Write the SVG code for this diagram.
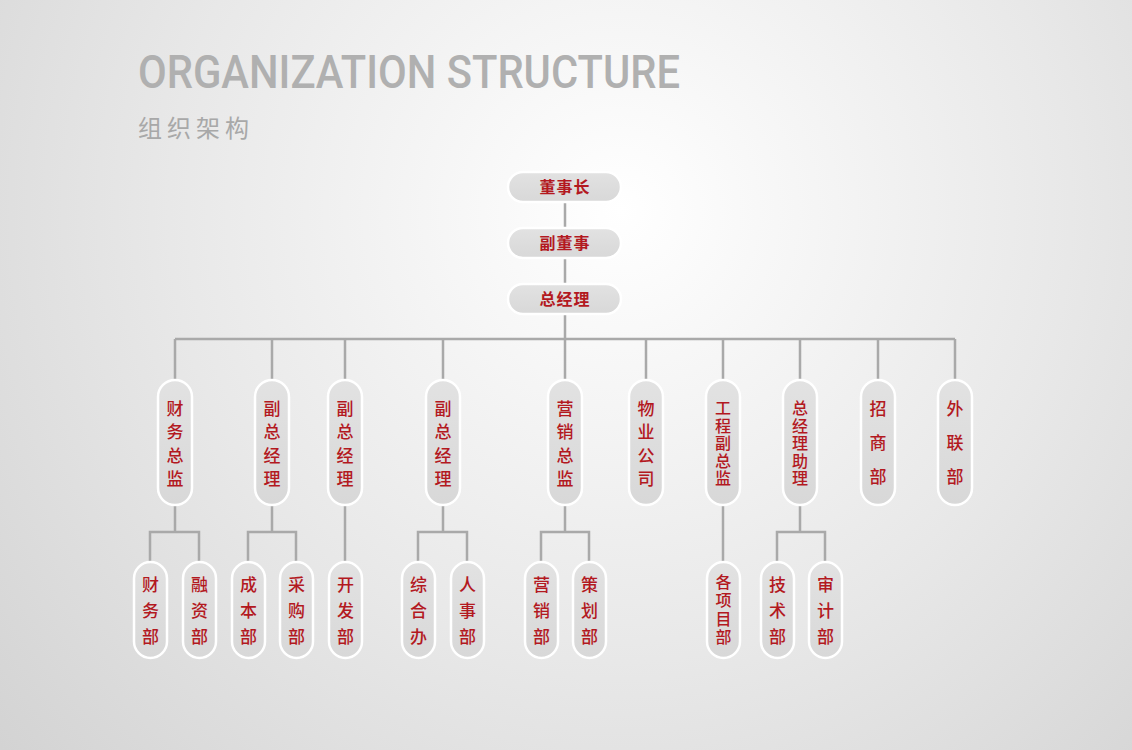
<svg xmlns="http://www.w3.org/2000/svg" width="1132" height="750" viewBox="0 0 1132 750">
<defs>
<radialGradient id="bg" cx="620" cy="210" r="820" gradientUnits="userSpaceOnUse">
<stop offset="0" stop-color="#ffffff"/>
<stop offset="0.55" stop-color="#e8e8e8"/>
<stop offset="1" stop-color="#d3d3d3"/>
</radialGradient>
<linearGradient id="pill" x1="0" y1="0" x2="0" y2="1">
<stop offset="0" stop-color="#e2e2e2"/>
<stop offset="1" stop-color="#d8d8d8"/>
</linearGradient>
<style>
.pill{fill:url(#pill);stroke:#ffffff;stroke-width:2.5}
.t{font-family:"Noto Sans CJK SC","Noto Sans",sans-serif;font-size:17px;font-weight:500;fill:#b3191f;text-anchor:middle}
.v{font-family:"Noto Sans CJK SC","Noto Sans",sans-serif;font-size:16px;font-weight:500;fill:#b3191f;text-anchor:start;writing-mode:vertical-rl;letter-spacing:1.5px}
.tt{font-family:"Noto Sans CJK SC","Noto Sans",sans-serif;font-size:16px;font-weight:bold;fill:#b3191f;text-anchor:middle;letter-spacing:1px}
.ln{stroke:#a9a9a9;stroke-width:2.5;fill:none}
</style>
</defs>
<rect width="1132" height="750" fill="url(#bg)"/>
<text x="138" y="88" font-family="Roboto,'Liberation Sans',Arial,sans-serif" font-weight="500" font-size="46" fill="#b0b0b0" textLength="542" lengthAdjust="spacingAndGlyphs">ORGANIZATION STRUCTURE</text>
<text x="138" y="137" font-family="'Noto Sans CJK SC',sans-serif" font-size="24" fill="#a8a8a8" letter-spacing="5">组织架构</text>

<g id="connectors" class="ln">
<path d="M565 202V228M565 258V284M565 314V339M175 339H955"/>
<path d="M175 339V380M272 339V380M345 339V380M443 339V380M565 339V380M646 339V380M723 339V380M800 339V380M878 339V380M955 339V380"/>
<path d="M175 505V532M150 562V532H199V562"/>
<path d="M272 505V532M248 562V532H296V562"/>
<path d="M345 505V562"/>
<path d="M443 505V532M418 562V532H467V562"/>
<path d="M565 505V532M541 562V532H589V562"/>
<path d="M723 505V562"/>
<path d="M800 505V532M777 562V532H825V562"/>
</g>

<g id="n-dsz"><rect class="pill" x="508" y="172" width="113" height="30" rx="15"/><text class="tt" x="565" y="193">董事长</text></g>
<g id="n-fds"><rect class="pill" x="508" y="228" width="113" height="30" rx="15"/><text class="tt" x="565" y="249">副董事</text></g>
<g id="n-zjl"><rect class="pill" x="508" y="284" width="113" height="30" rx="15"/><text class="tt" x="565" y="305">总经理</text></g>

<g id="n-cwzj"><rect class="pill" x="158" y="380" width="34" height="125" rx="17"/><text class="t" x="175" y="415">财</text><text class="t" x="175" y="438">务</text><text class="t" x="175" y="461.5">总</text><text class="t" x="175" y="484.5">监</text></g>
<g id="n-fzjl1"><rect class="pill" x="255" y="380" width="34" height="125" rx="17"/><text class="t" x="272" y="415">副</text><text class="t" x="272" y="438">总</text><text class="t" x="272" y="461.5">经</text><text class="t" x="272" y="484.5">理</text></g>
<g id="n-fzjl2"><rect class="pill" x="328" y="380" width="34" height="125" rx="17"/><text class="t" x="345" y="415">副</text><text class="t" x="345" y="438">总</text><text class="t" x="345" y="461.5">经</text><text class="t" x="345" y="484.5">理</text></g>
<g id="n-fzjl3"><rect class="pill" x="426" y="380" width="34" height="125" rx="17"/><text class="t" x="443" y="415">副</text><text class="t" x="443" y="438">总</text><text class="t" x="443" y="461.5">经</text><text class="t" x="443" y="484.5">理</text></g>
<g id="n-yxzj"><rect class="pill" x="548" y="380" width="34" height="125" rx="17"/><text class="t" x="565" y="415">营</text><text class="t" x="565" y="438">销</text><text class="t" x="565" y="461.5">总</text><text class="t" x="565" y="484.5">监</text></g>
<g id="n-wygs"><rect class="pill" x="629" y="380" width="34" height="125" rx="17"/><text class="t" x="646" y="415">物</text><text class="t" x="646" y="438">业</text><text class="t" x="646" y="461.5">公</text><text class="t" x="646" y="484.5">司</text></g>
<g id="n-gcfzj"><rect class="pill" x="706" y="380" width="34" height="125" rx="17"/><text class="v" x="723" y="400">工程副总监</text></g>
<g id="n-zjlzl"><rect class="pill" x="783" y="380" width="34" height="125" rx="17"/><text class="v" x="800" y="400">总经理助理</text></g>
<g id="n-zsb"><rect class="pill" x="861" y="380" width="34" height="125" rx="17"/><text class="t" x="878" y="415">招</text><text class="t" x="878" y="449">商</text><text class="t" x="878" y="483">部</text></g>
<g id="n-wlb"><rect class="pill" x="938" y="380" width="34" height="125" rx="17"/><text class="t" x="955" y="415">外</text><text class="t" x="955" y="449">联</text><text class="t" x="955" y="483">部</text></g>

<g id="n-cwb"><rect class="pill" x="134" y="562" width="33" height="96" rx="16.5"/><text class="t" x="150.5" y="591">财</text><text class="t" x="150.5" y="617">务</text><text class="t" x="150.5" y="643">部</text></g>
<g id="n-rzb"><rect class="pill" x="183" y="562" width="33" height="96" rx="16.5"/><text class="t" x="199.5" y="591">融</text><text class="t" x="199.5" y="617">资</text><text class="t" x="199.5" y="643">部</text></g>
<g id="n-cbb"><rect class="pill" x="232" y="562" width="33" height="96" rx="16.5"/><text class="t" x="248.5" y="591">成</text><text class="t" x="248.5" y="617">本</text><text class="t" x="248.5" y="643">部</text></g>
<g id="n-cgb"><rect class="pill" x="280" y="562" width="33" height="96" rx="16.5"/><text class="t" x="296.5" y="591">采</text><text class="t" x="296.5" y="617">购</text><text class="t" x="296.5" y="643">部</text></g>
<g id="n-kfb"><rect class="pill" x="329" y="562" width="33" height="96" rx="16.5"/><text class="t" x="345.5" y="591">开</text><text class="t" x="345.5" y="617">发</text><text class="t" x="345.5" y="643">部</text></g>
<g id="n-zhb"><rect class="pill" x="402" y="562" width="33" height="96" rx="16.5"/><text class="t" x="418.5" y="591">综</text><text class="t" x="418.5" y="617">合</text><text class="t" x="418.5" y="643">办</text></g>
<g id="n-rsb"><rect class="pill" x="451" y="562" width="33" height="96" rx="16.5"/><text class="t" x="467.5" y="591">人</text><text class="t" x="467.5" y="617">事</text><text class="t" x="467.5" y="643">部</text></g>
<g id="n-yxb"><rect class="pill" x="525" y="562" width="33" height="96" rx="16.5"/><text class="t" x="541.5" y="591">营</text><text class="t" x="541.5" y="617">销</text><text class="t" x="541.5" y="643">部</text></g>
<g id="n-chb"><rect class="pill" x="573" y="562" width="33" height="96" rx="16.5"/><text class="t" x="589.5" y="591">策</text><text class="t" x="589.5" y="617">划</text><text class="t" x="589.5" y="643">部</text></g>
<g id="n-gxmb"><rect class="pill" x="707" y="562" width="33" height="96" rx="16.5"/><text class="v" x="723.5" y="574" style="letter-spacing:2.3px">各项目部</text></g>
<g id="n-jsb"><rect class="pill" x="761" y="562" width="33" height="96" rx="16.5"/><text class="t" x="777.5" y="591">技</text><text class="t" x="777.5" y="617">术</text><text class="t" x="777.5" y="643">部</text></g>
<g id="n-sjb"><rect class="pill" x="809" y="562" width="33" height="96" rx="16.5"/><text class="t" x="825.5" y="591">审</text><text class="t" x="825.5" y="617">计</text><text class="t" x="825.5" y="643">部</text></g>
</svg>
